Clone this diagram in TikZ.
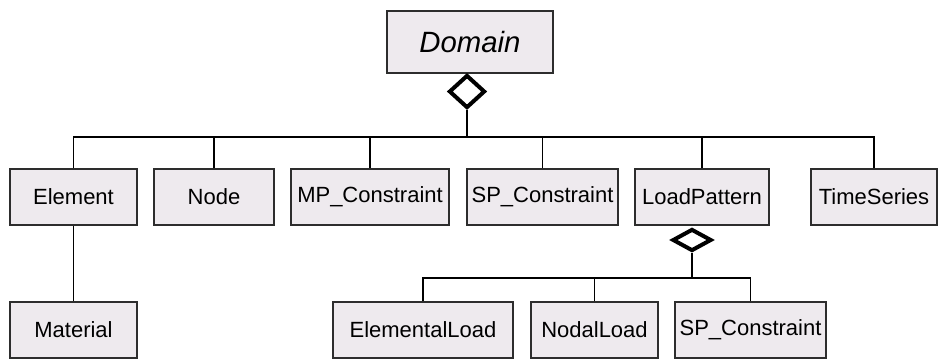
\documentclass[tikz,border=0pt]{standalone}
\usepackage{fontspec}
\setsansfont{Liberation Sans}
\usepackage{tikz}
\usetikzlibrary{shapes.geometric}

\definecolor{classFill}{RGB}{238,234,238}
\definecolor{classBorder}{RGB}{45,45,45}

\begin{document}
\begin{tikzpicture}[
        % one unit is one pixel of the reference, y runs downwards
        x=0.75pt,
        y=-0.75pt,
        every node/.style={font=\sffamily\fontsize{16.5}{18}\selectfont},
        classBox/.style={rectangle, draw=classBorder, line width=1.1pt, fill=classFill,
            minimum height=42pt, inner sep=0pt},
        aggDiamond/.style={diamond, draw=black, line width=3pt, fill=white, inner sep=0pt},
        link/.style={draw=black, line width=0.9pt}
    ]
        \useasboundingbox (0,0) rectangle (940,358);

        % Row heights
        \def\topRow{197}
        \def\bottomRow{330}

        % Abstract root class
        \node[classBox, minimum width=124.5pt, minimum height=46.5pt,
            font=\sffamily\itshape\fontsize{22}{24}\selectfont] (domain) at (470,42) {Domain};
        \node[aggDiamond, minimum width=27pt, minimum height=24.75pt] (domainDiamond) at (467,91.5) {};

        % Classes held by the domain
        \node[classBox, minimum width=95.2pt] (element) at (73.5,\topRow) {Element};
        \node[classBox, minimum width=90pt] (nodeBox) at (214,\topRow) {Node};
        \node[classBox, minimum width=118.5pt] (mpConstraint) at (370,\topRow) {MP\_Constraint};
        \node[classBox, minimum width=113.2pt] (spConstraint) at (542.5,\topRow) {SP\_Constraint};
        \node[classBox, minimum width=100.5pt] (loadPattern) at (702,\topRow) {LoadPattern};
        \node[classBox, minimum width=94.5pt] (timeSeries) at (874,\topRow) {TimeSeries};

        % Aggregation tree under the domain
        \coordinate (domainBus) at (467,137);
        \draw[link] (domainDiamond.south) -- (domainBus);
        \foreach \child in {element, nodeBox, mpConstraint, spConstraint, loadPattern, timeSeries}
            \draw[link] (\child.north) |- (domainBus);

        % Element uses a material
        \node[classBox, minimum width=95.2pt] (material) at (73.5,\bottomRow) {Material};
        \draw[link] (element) -- (material);

        % Classes held by a load pattern
        \node[aggDiamond, minimum width=29.25pt, minimum height=16.5pt] (loadDiamond) at (692,240) {};
        \node[classBox, minimum width=135pt] (elementalLoad) at (423,\bottomRow) {ElementalLoad};
        \node[classBox, minimum width=95.2pt] (nodalLoad) at (594.5,\bottomRow) {NodalLoad};
        \node[classBox, minimum width=113.2pt] (spConstraintLoad) at (750.5,\bottomRow) {SP\_Constraint};

        \coordinate (loadBus) at (692,278);
        \draw[link] (loadDiamond.south) -- (loadBus);
        \foreach \child in {elementalLoad, nodalLoad, spConstraintLoad}
            \draw[link] (\child.north) |- (loadBus);

    \end{tikzpicture}
\end{document}
